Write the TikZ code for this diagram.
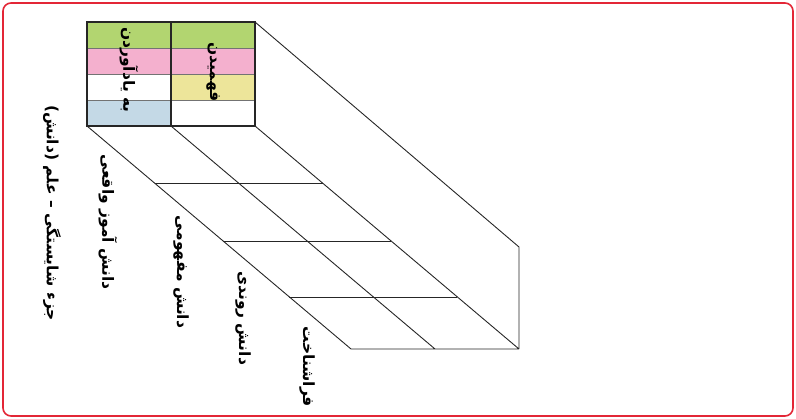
\documentclass[tikz,border=0pt]{standalone}
\usepackage{fontspec}
\TeXXeTstate=1
\newfontfamily\farsi[Script=Arabic]{DejaVu Sans}
\usetikzlibrary{positioning,calc}

\definecolor{cellgreen}{RGB}{178,213,112}
\definecolor{cellpink}{RGB}{244,176,206}
\definecolor{cellyellow}{RGB}{237,229,154}
\definecolor{cellblue}{RGB}{196,217,230}
\definecolor{framered}{RGB}{227,38,54}

\begin{document}
\begin{tikzpicture}[x=1pt,y=-1pt,
    cell/.style={draw=black!55,line width=0.7pt,minimum width=84pt,minimum height=26pt,
        inner sep=0pt,outer sep=0pt},
    front/.style={draw=black!85,line width=2pt},
    wire/.style={draw=black!85,line width=0.9pt},
    rottext/.style={font=\farsi\bfseries\fontsize{15.5}{18}\selectfont,rotate=-90,inner sep=0pt}]

\useasboundingbox (0,0) rectangle (796,419);
\draw[framered,line width=1.6pt,rounded corners=8pt] (3,3) rectangle (793,416);

% front face
\node[cell,fill=cellgreen] (L1) at (129,35) {};
\node[cell,fill=cellpink,below=0pt of L1] (L2) {};
\node[cell,fill=white,below=0pt of L2] (L3) {};
\node[cell,fill=cellblue,below=0pt of L3] (L4) {};
\node[cell,fill=cellgreen,right=0pt of L1] (R1) {};
\node[cell,fill=cellpink,below=0pt of R1] (R2) {};
\node[cell,fill=cellyellow,below=0pt of R2] (R3) {};
\node[cell,fill=white,below=0pt of R3] (R4) {};
\draw[front] (L1.north west) rectangle (R4.south east);
\draw[front] (L1.north east) -- (L4.south east);

\node[rottext] (remember) at ($(L1.north)!0.46!(L4.south)$) {\beginR به یادآوردن\endR};
\node[rottext] (understand) at ($(R1.north)!0.48!(R4.south)$) {\beginR فهمیدن\endR};

% depth
\coordinate (BL) at ($(L4.south west)+(264,223)$);
\coordinate (BM) at ($(L4.south east)+(264,223)$);
\coordinate (BR) at ($(R4.south east)+(264,223)$);
\coordinate (BT) at ($(R1.north east)+(264,225)$);

\path[wire]
    (R1.north east) -- (BT) -- (BR)
    (L4.south west) -- (BL) -- (BR)
    (L4.south east) -- (BM)
    (R4.south east) -- (BR);
\foreach \k in {0.256,0.516,0.767}
    \draw[wire] ($(L4.south west)!\k!(BL)$) -- ($(R4.south east)!\k!(BR)$);

% labels
\node[rottext] (competence) at (52,213) {\beginR جزء شایستگی – علم (دانش)\endR};
\node[rottext] (factual) at (108,222) {\beginR دانش آموز واقعی\endR};
\node[rottext] (conceptual) at (181,272) {\beginR دانش مفهومی\endR};
\node[rottext] (procedural) at (243,318) {\beginR دانش روندی\endR};
\node[rottext] (meta) at (307,367) {\beginR فراشناخت\endR};

\end{tikzpicture}
\end{document}
